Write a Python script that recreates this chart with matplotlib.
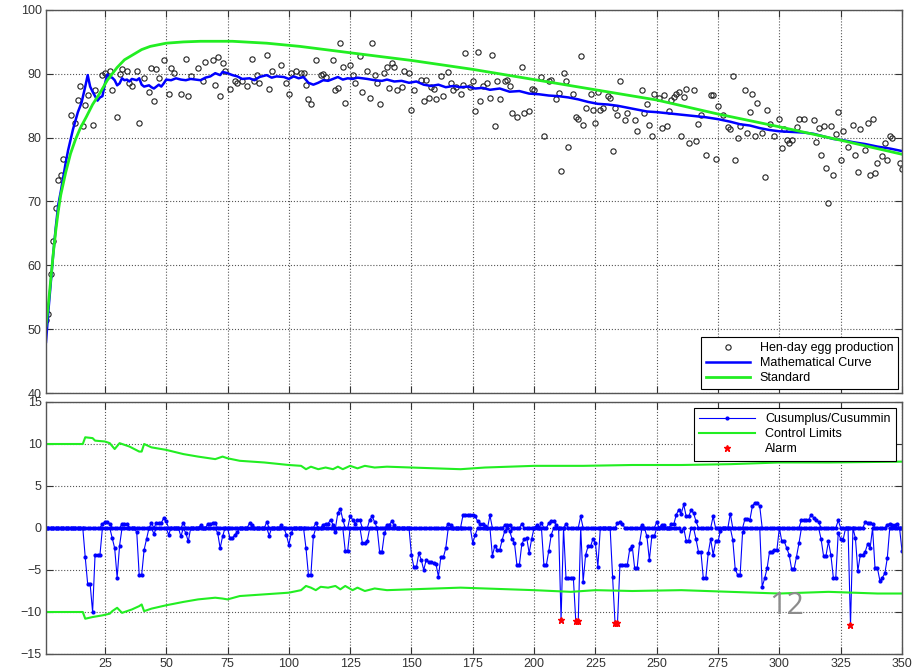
import numpy as np
import matplotlib
matplotlib.use("Agg")
import matplotlib.pyplot as plt

plt.rcParams['font.family'] = ['Liberation Sans', 'DejaVu Sans']

# ---- top panel data ----
egg_days = [1, 2, 3, 4, 5, 6, 7, 8, 11, 13, 14, 15, 16, 17, 18, 20, 21, 24, 25, 27, 28, 30, 31, 32, 34, 35, 36, 38, 39,
            41, 43, 44, 45, 46, 47, 49, 51, 52, 53, 56, 58, 59, 60, 63, 65, 66, 69, 70, 71, 72, 73, 74, 76, 78, 79,
            81, 83, 85, 86, 87, 88, 91, 92, 93, 97, 99, 100, 101, 103,
            105, 106, 107, 108, 109, 111, 113, 114, 115, 118, 119, 120, 121, 122, 123, 125, 126, 127, 129, 130,
            132, 133, 134, 135, 136, 137, 139, 140, 141, 142, 143, 144, 146, 147, 149, 150, 151, 154, 155, 156,
            157, 158, 159, 160, 162, 163, 165, 166, 167, 168, 170, 171, 172, 174, 175, 176, 177, 178, 179, 181,
            182, 183, 184, 185, 186, 188, 189, 190, 191, 193, 195, 196, 198, 199, 200, 203, 204, 206, 207, 209,
            210, 211, 212, 213, 214, 216, 217, 218, 219, 220, 221, 223, 224, 225, 226, 227, 228, 230, 231, 232,
            233, 234, 235, 237, 238, 241, 242, 244, 245, 246, 247, 248, 249, 251, 252, 253, 254, 255, 256, 257,
            258, 259, 260, 261, 262, 263, 265, 266, 267, 268, 270, 272, 273, 274, 275, 277, 279, 280, 281, 282,
            283, 284, 286, 287, 288, 289, 290, 291, 293, 294, 295, 296, 298, 300, 301, 302, 303, 304, 305, 307,
            308, 310, 314, 315, 316, 317, 318, 319, 320, 321, 322, 323, 324, 325, 326, 328, 330, 331, 332, 333,
            335, 336, 337, 338, 339, 340, 342, 343, 344, 345, 346, 349, 350]
egg_vals = [51.5, 52.3, 58.7, 63.8, 69.0, 73.4, 74.2, 76.7, 83.6, 82.3, 85.9, 88.1, 81.8, 85.1, 86.7, 82.0, 87.4,
            89.8, 90.1, 90.5, 87.5, 83.3, 90.0, 90.7, 90.5, 88.5, 88.1, 90.4, 82.3,
            89.3, 87.1, 90.9, 85.8, 90.7, 89.3, 92.1, 86.9, 90.9, 90.2, 86.8, 92.4, 86.6, 89.6, 90.9, 88.8, 91.9,
            92.1, 88.3, 92.7, 86.5, 91.7, 90.4, 87.6, 88.8, 88.5,
            88.8, 88.1, 92.4, 88.8, 89.8, 88.5, 93.0, 87.6, 90.5, 91.4, 88.5, 86.9, 90.2, 90.5,
            90.2, 90.1, 88.3, 86.0, 85.2, 92.2, 89.8, 90.0, 89.5, 92.1, 87.4, 87.8, 94.9, 91.1, 85.4, 91.4, 89.8,
            88.6, 92.8, 87.1,
            90.4, 86.2, 94.8, 89.8, 88.5, 85.3, 90.2, 91.1, 87.8, 91.7, 91.1, 87.4, 88.0, 90.5, 90.2, 84.4, 87.5,
            89.1, 85.8, 89.1,
            86.2, 87.9, 87.6, 86.0, 89.6, 86.6, 90.3, 88.5, 87.4, 87.9, 86.9, 88.3, 93.3, 87.9, 88.8, 84.1, 93.4,
            85.7, 88.1, 88.5,
            86.2, 93.0, 81.9, 88.8, 86.0, 88.8, 89.1, 88.1, 83.9, 83.3, 91.0, 83.9, 84.1, 87.6, 87.5, 89.5, 80.2,
            88.8, 89.1, 86.0,
            87.0, 74.7, 90.1, 88.9, 78.6, 86.9, 83.3, 82.9, 92.8, 82.0, 84.6, 86.9, 84.4, 82.3, 87.2, 84.4, 84.6,
            86.5, 86.2, 77.9,
            84.6, 83.6, 88.8, 82.7, 83.9, 82.7, 81.0, 87.5, 83.9, 85.2, 82.0, 80.2, 86.9, 86.2, 81.5, 86.7, 81.8,
            84.1, 85.9, 86.4,
            86.9, 87.1, 80.2, 86.4, 87.6, 79.1, 87.5, 79.4, 82.2, 83.6, 77.3, 86.7, 86.7, 76.7, 84.9, 83.6, 81.7,
            81.3, 89.6, 76.5,
            79.9, 81.8, 87.4, 80.7, 84.0, 86.9, 80.3, 85.5, 80.7, 73.9, 84.3, 82.2, 80.2, 82.9, 78.4, 81.3, 79.7,
            79.1, 79.7, 81.6,
            82.9, 82.9, 82.7, 79.3, 81.5, 77.3, 81.8, 75.3, 69.7, 81.9, 74.2, 80.6, 84.0, 76.5, 81.1, 78.6, 82.0,
            77.3, 74.6, 81.4,
            78.0, 82.3, 74.1, 82.9, 74.4, 76.0, 77.2, 79.1, 76.5, 80.2, 79.9, 76.0, 75.1]

curve_days = [1, 2, 3, 4, 5, 6, 7, 9, 10, 12, 14, 15.5, 17, 18, 19, 20, 21, 22, 23, 24, 25, 26, 27, 28, 29, 30,
              31, 32, 33, 34, 35, 36, 38, 39, 40, 41, 43, 44, 45, 46, 47, 48, 49, 50, 52, 54, 56, 58, 60, 62, 64,
              66, 68, 70, 72, 73, 75, 77, 79, 81, 84, 86, 88, 91, 93, 95, 98, 100, 102, 104, 106, 108, 110, 112,
              114, 116, 118, 120, 122, 124, 126, 128, 130, 132, 135, 138, 140, 143, 146, 149, 152, 155, 158, 161,
              164, 167, 170, 173, 176, 179, 182, 186, 190, 194, 198, 202, 206, 210, 214, 218, 222, 226, 230, 234,
              238, 242, 246, 250, 255, 260, 265, 270, 275, 280, 284, 288, 292, 296, 300, 305, 310, 314, 318, 322,
              326, 330, 335, 340, 345, 350]
curve_vals = [48, 53, 57.5, 62, 66, 69.5, 71.5, 76, 78, 81.3, 84, 85.5, 88, 89.8, 88, 87.2, 86.5, 85.8, 86.3, 86.5,
              88.4, 89.9, 89.5, 89.4, 89.0, 88.2, 88.5, 89.3, 89.0, 89.1, 88.8, 89.2, 89.0, 89.3, 88.3, 88.0, 88.2,
              87.9, 87.7, 88.0, 88.3, 88.0, 88.5, 89.1, 89.0, 89.3, 89.1, 89.0, 89.2, 89.1, 89.0, 89.4, 89.6, 90.1,
              89.8, 90.3, 90.1, 89.8, 89.6, 89.2, 89.3, 89.0, 89.5, 89.8, 89.4, 89.6, 89.5, 89.2, 89.6, 89.3, 89.5,
              88.6, 88.3, 88.6, 89.0, 88.9, 89.2, 89.5, 89.1, 89.3, 89.2, 89.4, 89.3, 89.2, 89.0, 88.9, 89.1, 88.8,
              88.9, 88.6, 88.8, 88.3, 88.1, 88.3, 87.9, 88.1, 87.9, 88.0, 87.7, 87.8, 87.5, 87.7, 87.2, 87.3, 86.9,
              86.8, 86.6, 86.5, 86.3, 86.0, 85.6, 85.3, 85.2, 85.0, 84.7, 84.4, 84.1, 84.0, 83.8, 83.6, 83.4, 83.2,
              82.9, 82.5, 82.1, 81.9, 81.5, 81.2, 81.0, 80.9, 80.8, 80.6, 80.2, 79.8, 79.6, 79.3, 79.0, 78.6, 78.3,
              77.9]

std_days = [1, 2, 3, 4, 5, 6, 7, 9, 11, 13, 15, 17.5, 20, 23, 26, 30, 33, 36.5, 40, 43.5, 50, 57, 64, 77, 91,
            104.5, 125, 150, 175, 200, 225, 250, 275, 300, 325, 350]
std_vals = [50.5, 54, 58, 62, 65.5, 68.5, 71, 74.5, 77.5, 79.7, 81.5, 83.3, 85.2, 87, 89, 91, 92.2, 93, 93.8, 94.3,
            94.8, 95.0, 95.1, 95.1, 94.8, 94.3, 93.3, 92.1, 90.7, 89.1, 87.5, 85.9, 83.7, 81.7, 79.6, 77.4]

# ---- bottom panel data (non-zero days only) ----
minus_days = [17, 18, 19, 20, 21, 22, 23, 28, 29, 30, 31, 38, 39, 40, 41, 42, 45, 51, 56, 58, 59, 71, 72, 73,
              76, 77, 78, 79, 92, 99, 100, 101, 107, 108, 109, 110, 119, 123, 124, 130, 131, 132, 137, 138, 139,
              150, 151, 152, 153, 154, 155, 156, 157, 158, 159, 160, 161, 162, 163, 164, 175, 176,
              183, 184, 185, 186, 187, 188, 190, 191, 192, 193, 194, 195, 196, 197, 198, 199, 204, 205, 206, 207,
              211, 213, 214, 215, 216, 217, 218, 220, 221, 222, 223, 224, 225, 226,
              232, 233, 234, 235, 236, 237, 238, 239, 240, 241, 242, 243, 246, 247, 248, 249, 260,
              262, 263, 266, 267, 268, 269, 270, 271, 272, 273, 274, 275, 276, 281, 282, 283, 284, 285,
              293, 294, 295, 296, 297, 298, 299, 301, 302, 303, 304, 305, 306, 307, 308,
              317, 318, 319, 320, 321, 322, 323, 324, 325, 326, 329, 331, 332, 333, 334, 335, 336, 337,
              339, 340, 341, 342, 343, 344, 350]
minus_vals = [-3.5, -6.7, -6.7, -10.0, -3.2, -3.2, -3.2, -1.2, -2.4, -5.9, -2.1, -0.5, -5.6, -5.6, -2.6, -1.3,
              -0.7, -0.8, -1.0, -0.6, -1.6, -0.6, -2.4, -1.0, -1.2, -1.2, -0.8, -0.5, -0.9, -0.8, -2.0, -0.6,
              -2.4, -5.6, -5.6, -1.0, -0.5, -2.7, -2.7, -1.8, -1.8, -1.5, -2.8, -2.8, -0.6,
              -3.2, -4.7, -4.7, -3.0, -3.8, -5.0, -3.8, -4.0, -4.0, -4.2, -4.3, -5.8, -3.4, -3.5, -2.4, -1.8, -0.8,
              -3.3, -2.1, -2.6, -2.6, -1.4, -0.4, -0.3, -1.3, -1.8, -4.4, -4.4, -1.9, -1.3, -1.2, -3.0, -1.3,
              -4.4, -4.4, -2.7, -0.8,
              -10.9, -5.9, -5.9, -5.9, -5.9, -11.1, -11.1, -6.4, -3.2, -2.2, -2.2, -1.3, -1.8, -4.6,
              -5.8, -11.3, -11.3, -4.4, -4.4, -4.4, -4.4, -2.5, -2.1, -4.8, -4.8, -1.8, -1.0, -3.8, -1.0, -1.0,
              -0.4,
              -1.5, -1.5, -1.3, -2.8, -2.8, -6.0, -6.0, -3.0, -1.3, -3.2, -1.6, -1.6, -0.3, -1.4, -4.9, -5.6,
              -5.6, -0.5,
              -7.0, -6.0, -4.8, -2.8, -2.8, -2.6, -2.6, -1.6, -1.6, -2.4, -3.2, -4.9, -4.9, -3.4, -1.8,
              -1.3, -3.3, -3.3, -1.6, -3.2, -5.9, -5.9, -0.6, -1.3, -1.4, -11.6, -1.2, -5.1, -3.2, -3.2, -2.8,
              -1.9, -2.4, -4.8, -4.8, -6.3, -5.9, -5.4, -3.6, -2.7]

plus_days = [24, 25, 26, 27, 32, 33, 34, 44, 46, 47, 48, 49, 50, 57, 64, 67, 68, 69, 70, 84, 85, 91, 97,
             111, 114, 115, 116, 117, 118, 120, 121, 122, 125, 126, 127, 128, 129, 133, 134, 135, 140, 141, 142,
             143, 165, 166, 171, 172, 173, 174, 175, 176, 177, 178, 179, 180, 182, 188, 189, 190, 195, 201, 203,
             206, 207, 208, 209, 213, 219, 234, 235, 236, 244, 250, 252, 253, 256, 257, 258, 259, 260, 261, 262,
             263, 264, 265, 266, 273, 280, 286, 287, 288, 289, 290, 291, 292, 309, 310, 311, 312, 313, 314, 315,
             316, 324, 335, 336, 337, 338, 344, 345, 346, 347, 348]
plus_vals = [0.5, 0.7, 0.7, 0.5, 0.5, 0.5, 0.5, 0.6, 0.6, 0.6, 0.6, 1.2, 0.8, 0.6, 0.3, 0.5, 0.5, 0.6, 0.6, 0.6,
             0.3, 0.7, 0.3,
             0.6, 0.4, 0.5, 0.5, 1.0, 0.4, 1.8, 2.3, 1.0, 1.4, 1.0, 0.5, 1.0, 0.9, 1.0, 1.4, 0.7, 0.3, 0.4, 0.8,
             0.3, 0.5, 0.4, 1.5, 1.5, 1.5, 1.5, 1.5, 1.4, 0.8, 0.5, 0.5, 0.2, 1.5, 0.3, 0.4, 0.3, 0.5, 0.3, 0.6,
             0.6, 0.8, 0.8, 0.4, 0.5, 1.4, 0.6, 0.7, 0.5, 0.3, 0.7, 0.4, 0.4, 0.5, 0.5, 1.6, 2.2, 1.7, 2.8, 1.4,
             1.4, 2.1, 1.8, 0.8, 1.4, 1.7, 1.1, 1.1, 1.0, 2.6, 3.0, 3.0, 2.6, 1.0, 1.0, 1.0, 1.0, 1.6, 1.2, 1.0,
             0.7, 0.9, 0.7, 0.6, 0.6, 0.5, 0.4, 0.5, 0.3, 0.3, 0.5]

alarm_days = [211, 217, 218, 233, 234, 329]

limit_up_days = [1, 16, 17, 20, 21, 25, 27, 29, 31, 35, 39, 40, 41, 44, 50, 57, 63, 70, 73, 75, 80, 90, 100, 105,
                 107, 109, 112, 115, 118, 120, 122, 125, 128, 131, 135, 140, 150, 160, 170, 180, 200, 220, 240,
                 260, 280, 300, 320, 350]
limit_up_vals = [10.0, 10.0, 10.8, 10.7, 10.4, 10.3, 10.1, 9.4, 10.1, 9.7, 9.1, 9.1, 10.0, 9.6, 9.3, 8.8, 8.5,
                 8.2, 8.5, 8.3, 8.0, 7.8, 7.5, 7.4, 7.0, 7.3, 7.0, 7.2, 7.0, 7.3, 7.0, 7.4, 7.1, 7.4, 7.2, 7.3,
                 7.2, 7.1, 7.0, 7.2, 7.4, 7.4, 7.5, 7.5, 7.6, 7.8, 7.8, 7.9]
limit_lo_days = [1, 16, 17, 20, 24, 27, 28, 30, 32, 36, 39, 40, 41, 44, 50, 57, 63, 70, 73, 75, 80, 90, 100, 105,
                 107, 109, 111, 113, 116, 119, 121, 123, 126, 128, 131, 135, 140, 150, 160, 170, 180, 200, 215,
                 225, 240, 260, 280, 300, 320, 340, 350]
limit_lo_vals = [-10.0, -10.0, -10.8, -10.6, -10.4, -10.2, -9.9, -9.5, -10.1, -9.7, -9.3, -9.1, -9.9, -9.6, -9.2,
                 -8.8, -8.5, -8.3, -8.4, -8.5, -8.1, -7.9, -7.7, -7.4, -6.9, -7.1, -7.4, -7.0, -7.1, -6.9, -7.3,
                 -6.9, -7.4, -7.1, -7.5, -7.2, -7.4, -7.3, -7.2, -7.1, -7.2, -7.4, -7.6, -7.4, -7.5, -7.4, -7.6,
                 -7.8, -7.6, -7.8, -7.8]

all_days = np.arange(1, 351)
cusum_min = np.zeros(350)
cusum_min[np.array(minus_days) - 1] = minus_vals
cusum_plus = np.zeros(350)
cusum_plus[np.array(plus_days) - 1] = plus_vals
alarm_vals = cusum_min[np.array(alarm_days) - 1]

GREEN = '#22ee22'
BLUE = '#0000ff'

fig = plt.figure(figsize=(9.21, 6.67), dpi=100)
ax1 = fig.add_axes([46 / 921, 1 - 393 / 667, 856 / 921, 383 / 667])
ax2 = fig.add_axes([46 / 921, 1 - 654 / 667, 856 / 921, 252 / 667])

ax1.plot(egg_days, egg_vals, 'o', mfc='none', mec='#222222', ms=3.8, mew=0.8, label='Hen-day egg production')
ax1.plot(curve_days, curve_vals, color=BLUE, lw=1.8, label='Mathematical Curve')
ax1.plot(std_days, std_vals, color=GREEN, lw=2.0, label='Standard')
ax1.set_ylim(40, 100)
ax1.set_yticks(range(40, 101, 10))

ax2.plot(all_days, cusum_plus, '.-', color=BLUE, lw=0.8, ms=4, label='Cusumplus/Cusummin')
ax2.plot(all_days, cusum_min, '.-', color=BLUE, lw=0.8, ms=4)
ax2.plot(limit_up_days, limit_up_vals, color=GREEN, lw=1.5, label='Control Limits')
ax2.plot(limit_lo_days, limit_lo_vals, color=GREEN, lw=1.5)
ax2.plot(alarm_days, alarm_vals, '*', color='red', ms=5, label='Alarm')
ax2.set_ylim(-15, 15)
ax2.set_yticks(range(-15, 16, 5))

for ax in (ax1, ax2):
    ax.set_xlim(1, 350)
    ax.set_xticks(range(25, 351, 25))
    ax.grid(True, linestyle=':', color='#555555', lw=0.8)
    ax.tick_params(direction='in', top=True, right=True, length=5, labelsize=9, labelcolor='#333333',
                   color='#333333', pad=3)
    for s in ax.spines.values():
        s.set_color('#555555')
        s.set_linewidth(1.0)
ax1.tick_params(labelbottom=False)

leg1 = ax1.legend(loc='lower right', fontsize=9, fancybox=False, edgecolor='black', framealpha=1,
                  borderaxespad=0.3, handlelength=3.5, labelspacing=0.25, borderpad=0.4)
leg1.get_frame().set_linewidth(0.8)
leg2 = ax2.legend(loc='upper right', fontsize=9, fancybox=False, edgecolor='black', framealpha=1,
                  borderaxespad=0.5, handlelength=4.5, labelspacing=0.25, borderpad=0.4)
leg2.get_frame().set_linewidth(0.8)

fig.text(787 / 921, 1 - 606 / 667, '12', fontsize=22, color='#8c8c8c', ha='center', va='center',
         family=['Open Sans', 'DejaVu Sans'])

fig.savefig('out.png', dpi=100)
